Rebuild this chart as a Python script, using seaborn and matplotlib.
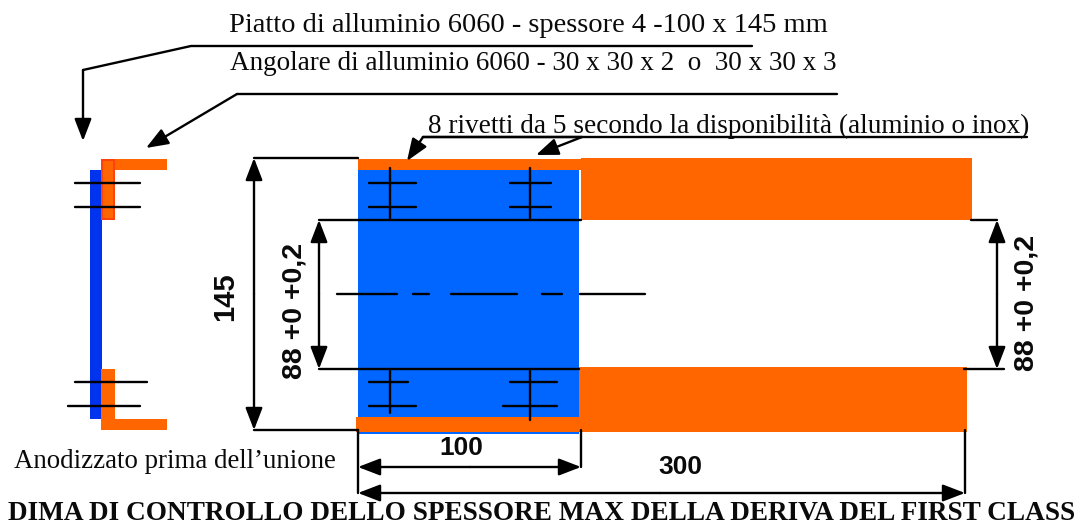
import matplotlib
matplotlib.use("Agg")
import matplotlib.pyplot as plt
import pandas as pd
import seaborn as sns

sns.set_theme(style="white")
plt.rcParams["font.family"] = ["Liberation Serif", "DejaVu Serif"]

ORANGE = "#ff6600"
BLUE = "#0066ff"
DARKBLUE = "#0033ee"

# rectangles: left, right, top, bottom (drawing units, y downward)
blue_plates = [(90, 102, 170, 419, DARKBLUE), (358, 579, 170, 434, BLUE)]
orange_plates = [
    (101, 115, 159, 220), (115, 167, 159, 170),
    (101, 115, 369, 430), (115, 167, 419, 430),
    (358, 581, 159, 170), (581, 972, 158, 220),
    (356, 581, 417, 432), (579, 967, 367, 432),
]
outlined_plate = (102, 114, 160, 219)

# plain lines: x list, y list
plain_lines = [
    ([75, 140], [183, 183]), ([75, 140], [207, 207]),
    ([75, 147], [382, 382]), ([68, 140], [406, 406]),
    ([369, 416], [183, 183]), ([369, 416], [207, 207]),
    ([510, 551], [183, 183]), ([510, 551], [207, 207]),
    ([369, 408], [382, 382]), ([369, 416], [406, 406]),
    ([510, 557], [382, 382]), ([503, 557], [406, 406]),
    ([389.5, 389.5], [168, 220]), ([529.5, 529.5], [168, 220]),
    ([389.5, 389.5], [369, 413]), ([529.5, 529.5], [369, 420]),
    ([319, 581], [220, 220]), ([319, 579], [369, 369]),
    ([971, 997], [220, 220]), ([964, 1004], [369, 369]),
    ([337, 397], [294, 294]), ([413, 429], [294, 294]),
    ([451, 517], [294, 294]), ([542, 562], [294, 294]),
    ([580, 645], [294, 294]),
    ([254, 358], [158, 158]), ([254, 358], [430, 430]),
    ([358, 358], [430, 493]), ([581, 581], [430, 467]),
    ([965, 965], [430, 493]),
    ([83, 191, 752], [70, 46, 46]),
    ([237, 837], [94, 94]),
    ([423, 1027], [137, 137]),
    ([423, 582], [137, 137]),
]

# arrows: start (x, y), tip (x, y)
arrows = [
    ((83, 70), (83, 141)),
    ((237, 94), (146, 148)),
    ((423, 137), (407, 161)),
    ((582, 137), (536, 155)),
    ((254, 294), (254, 158)), ((254, 294), (254, 430)),
    ((319, 294), (319, 220)), ((319, 294), (319, 369)),
    ((997, 294), (997, 220)), ((997, 294), (997, 369)),
    ((470, 467), (358, 467)), ((470, 467), (581, 467)),
    ((660, 493), (358, 493)), ((660, 493), (965, 493)),
]

# serif labels: x, y, text, size, weight
serif_labels = [
    (229, 25, "Piatto di alluminio 6060 - spessore 4 -100 x 145 mm", 20.5, "normal"),
    (230, 64, "Angolare di alluminio 6060 - 30 x 30 x 2  o  30 x 30 x 3", 19.5, "normal"),
    (428, 126, "8 rivetti da 5 secondo la disponibilità (aluminio o inox)", 19.6, "normal"),
    (14, 461, "Anodizzato prima dell\u2019unione", 19.4, "normal"),
    (8, 513, "DIMA DI CONTROLLO DELLO SPESSORE MAX DELLA DERIVA DEL FIRST CLASS", 19.6, "bold"),
]

# sans dimension labels: x, y, text, rotation, size
dim_labels = [
    (225, 297, "145", 90, 21), (295, 311, "88 +0 +0,2", 90, 20.5),
    (1026, 303, "88 +0 +0,2", 90, 20.5),
    (461, 448, "100", 0, 19), (680, 467, "300", 0, 19),
]

fig = plt.figure(figsize=(10.86, 5.25), dpi=100, facecolor="white")
ax = fig.add_axes([0, 0, 1, 1])

for l, r, t, b, c in blue_plates:
    ax.bar(l, b - t, width=r - l, bottom=t, align="edge", color=c, linewidth=0, zorder=1)
for l, r, t, b in orange_plates:
    ax.bar(l, b - t, width=r - l, bottom=t, align="edge", color=ORANGE, linewidth=0, zorder=2)
l, r, t, b = outlined_plate
ax.bar(l, b - t, width=r - l, bottom=t, align="edge", color=ORANGE,
       edgecolor="#ff3a10", linewidth=1.2, zorder=2)

rows = []
for i, (xs, ys) in enumerate(plain_lines):
    for j, (x, y) in enumerate(zip(xs, ys)):
        rows.append({"x": x, "y": y, "line": i, "order": j})
frame = pd.DataFrame(rows)
sns.lineplot(data=frame, x="x", y="y", units="line", estimator=None, sort=False,
             color="black", linewidth=1.7, legend=False, ax=ax, zorder=3)
ax.set_xlim(0, 1086)
ax.set_ylim(525, 0)
ax.axis("off")

for start, tip in arrows:
    ax.annotate("", xy=tip, xytext=start, zorder=4,
                arrowprops=dict(arrowstyle="-|>,head_length=1.35,head_width=0.52",
                                mutation_scale=10, color="black", linewidth=1.7,
                                shrinkA=0, shrinkB=0))

for x, y, s, size, w in serif_labels:
    ax.text(x, y, s, fontsize=size, fontweight=w, color="#0a0a0a", ha="left", va="center", zorder=5)
for x, y, s, rot, size in dim_labels:
    ax.text(x, y, s, fontsize=size, fontweight="bold", rotation=rot, color="#0a0a0a",
            family="Liberation Sans", ha="center", va="center", zorder=5)

fig.savefig("out.png", dpi=100)
